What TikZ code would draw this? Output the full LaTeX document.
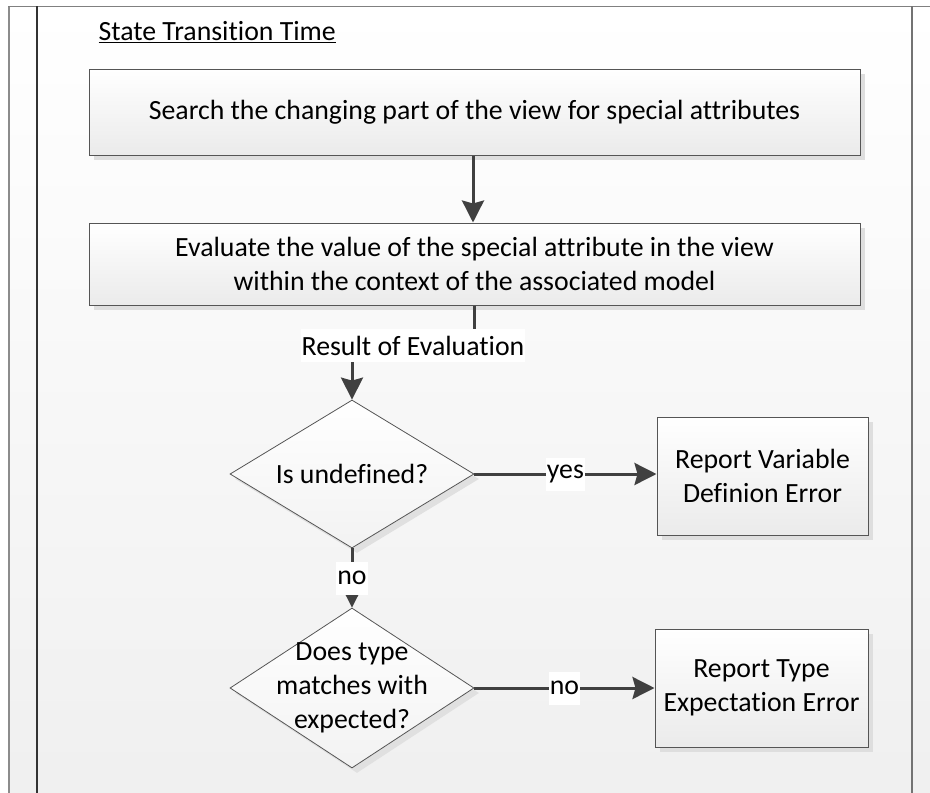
\documentclass[tikz,border=0pt]{standalone}
\usepackage{fontspec}
\setmainfont{Carlito}[Ligatures={NoCommon}]
\usetikzlibrary{shapes.geometric,arrows.meta,shadows}
\definecolor{lineC}{HTML}{404040}
\definecolor{borderC}{HTML}{555555}
\begin{document}
\begin{tikzpicture}[x=1pt,y=-1pt,
  txt/.style={font=\fontsize{27.8}{34}\selectfont},
  proc/.style={txt, draw=borderC, line width=1pt, top color=white, bottom color=black!8,
    general shadow={fill=black!13, shadow xshift=5pt, shadow yshift=-5pt},
    align=center, inner sep=0pt},
  dec/.style={diamond, draw=borderC, line width=0.8pt, top color=white, bottom color=black!5,
    general shadow={fill=black!12, shadow xshift=5pt, shadow yshift=-5pt},
    inner sep=0pt},
  conn/.style={draw=lineC, line width=3pt},
  arr/.style={conn, -{Stealth[length=22pt,width=22pt,inset=3pt]}},
  lab/.style={txt, fill=white, inner xsep=1pt, inner ysep=0pt, minimum height=33pt, text=black}
]
\useasboundingbox (0,0) rectangle (930,793);
\fill[white] (0,0) rectangle (930,793);
\shade[top color=white, bottom color=black!6] (8,6) rectangle (930,793);
\draw[black!45, line width=2pt] (9,6) -- (9,793);
\draw[black!50, line width=1pt] (8,6) -- (930,6);
\draw[black!80, line width=1.3pt] (37,6) -- (37,793);
\draw[black!55, line width=1.3pt] (912,6) -- (912,793);

\node[txt, anchor=west] (title) at (95,32) {\underline{State Transition Time}};

\node[proc, minimum width=771pt, minimum height=86pt] (search) at (474.5,112)
  {Search the changing part of the view for special attributes};
\node[proc, minimum width=771pt, minimum height=82pt] (eval) at (474.5,264)
  {Evaluate the value of the special attribute in the view\\within the context of the associated model};

\node[dec, minimum width=244pt, minimum height=148pt,
  label={[txt]center:Is undefined?}] (undef) at (352,474) {};
\node[dec, minimum width=244pt, minimum height=160pt,
  label={[txt, align=center]center:Does type\\matches with\\expected?}] (match) at (352,688) {};

\node[proc, minimum width=211pt, minimum height=118pt] (varerr) at (762.5,476)
  {Report Variable\\Definion Error};
\node[proc, minimum width=213pt, minimum height=118pt] (typeerr) at (761.5,688)
  {Report Type\\Expectation Error};

\draw[arr] (search.south -| 473,0) -- (eval.north -| 473,0);
\draw[arr] (eval.south -| 474,0) -- ++(0,40) -| (undef.north)
  node[lab, pos=0.25] (res) {Result of Evaluation};
\draw[arr] (undef.east) -- (varerr.west |- undef.east)
  node[lab, midway] (yes) {yes};
\draw[arr] (undef.south) -- (match.north)
  node[lab, midway] (no1) {no};
\draw[arr] (match.east) -- (typeerr.west |- match.east)
  node[lab, midway] (no2) {no};
\end{tikzpicture}
\end{document}
